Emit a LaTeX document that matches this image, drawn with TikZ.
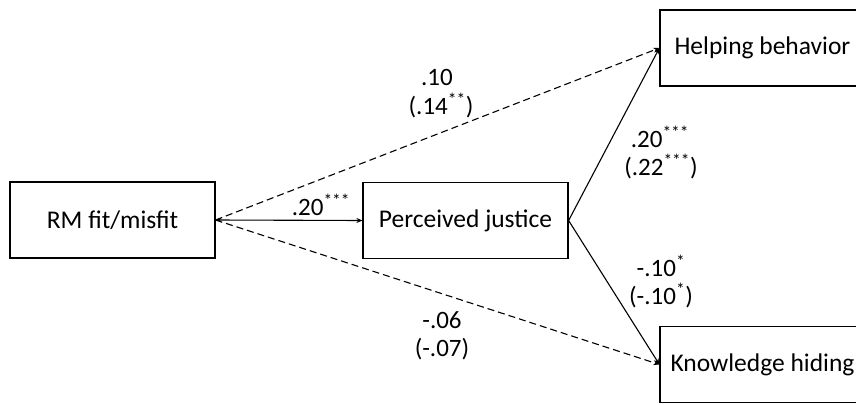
\documentclass[tikz,border=0pt]{standalone}
\usepackage{fontspec}
\setmainfont{Carlito}
\usetikzlibrary{arrows.meta}
\begin{document}
\begin{tikzpicture}[x=1pt,y=-1pt,
  box/.style={draw,line width=1.2pt,minimum width=205pt,minimum height=76pt,inner sep=0pt,font=\fontsize{25.5}{30}\selectfont},
  lbl/.style={inner sep=0pt,font=\fontsize{25}{29}\selectfont},
  conn/.style={line width=1.1pt,-{Stealth[length=6pt,width=5pt]}},
  dsh/.style={conn,dash pattern=on 7pt off 4pt}]
\clip (0,0) rectangle (856,404);
\useasboundingbox (0,0) rectangle (856,404);
\node[box] (rm) at (112.5,220) {RM fit/misfit};
\node[box] (pj) at (465.5,220.5) {Perceived justice};
\node[box] (hb) at (762.5,48) {Helping behavior};
\node[box] (kh) at (762.5,364.5) {Knowledge hiding};
\draw[conn,{Stealth[length=6pt,width=5pt]}-{Stealth[length=6pt,width=5pt]}] (rm.east) -- (pj.west);
\draw[dsh] (rm.east) -- (hb.west);
\draw[dsh] (rm.east) -- (kh.west);
\draw[conn] (pj.east) -- (hb.west);
\draw[conn] (pj.east) -- (kh.west);
\node[lbl] (l1) at (437,77) {.10};
\node[lbl] (l2) at (441,106) {(.14\textsuperscript{**})};
\node[lbl] (l3) at (321,205) {.20\textsuperscript{***}};
\node[lbl] (l4) at (660,137) {.20\textsuperscript{***}};
\node[lbl] (l5) at (661,167) {(.22\textsuperscript{***})};
\node[lbl] (l6) at (661,266) {-.10\textsuperscript{*}};
\node[lbl] (l7) at (661,296) {(-.10\textsuperscript{*})};
\node[lbl] (l8) at (442,320) {-.06};
\node[lbl] (l9) at (442,349) {(-.07)};
\end{tikzpicture}
\end{document}
